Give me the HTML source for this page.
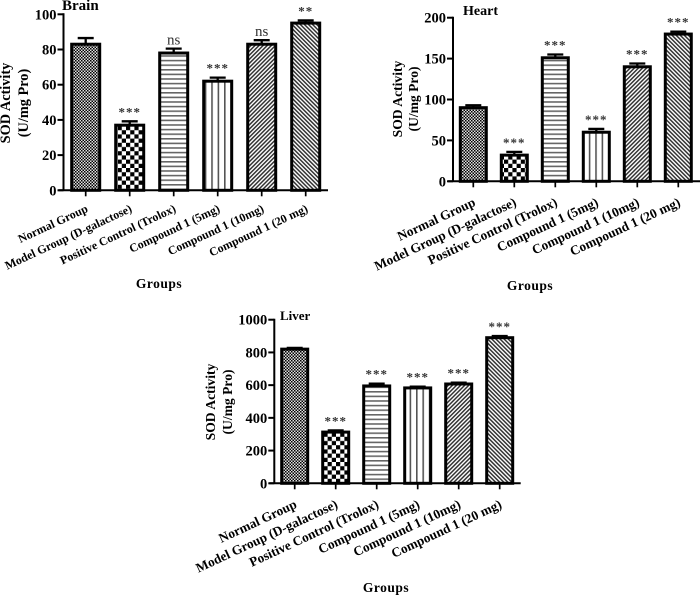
<!DOCTYPE html>
<html><head><meta charset="utf-8"><title>SOD Activity</title>
<style>
html,body{margin:0;padding:0;background:#fff;}
svg{display:block;font-family:"Liberation Serif",serif;}
text{fill:#000;}
</style></head>
<body>
<svg id="chart" width="700" height="595" viewBox="0 0 700 595" xmlns="http://www.w3.org/2000/svg">
<defs>
<filter id="soft" x="-2%" y="-2%" width="104%" height="104%"><feGaussianBlur stdDeviation="0.3"/></filter>
<pattern id="p0" width="3" height="3" patternUnits="userSpaceOnUse"><rect width="3" height="3" fill="#e0e0e0"/><rect width="1.5" height="1.5" fill="#000"/><rect x="1.5" y="1.5" width="1.5" height="1.5" fill="#000"/></pattern>
<pattern id="p1" width="8.4" height="8.4" patternUnits="userSpaceOnUse"><rect width="8.4" height="8.4" fill="#fff"/><rect width="4.2" height="4.2" fill="#000"/><rect x="4.2" y="4.2" width="4.2" height="4.2" fill="#000"/></pattern>
<pattern id="p2" width="4" height="4.6" patternUnits="userSpaceOnUse"><rect width="4" height="4.6" fill="#fff"/><rect y="0" width="4" height="1.6" fill="#666"/></pattern>
<pattern id="p3" width="6.4" height="4" patternUnits="userSpaceOnUse"><rect width="6.4" height="4" fill="#fff"/><rect x="0" width="1.6" height="4" fill="#555"/></pattern>
<pattern id="p4" width="2.9" height="2.9" patternUnits="userSpaceOnUse" patternTransform="rotate(45)"><rect width="2.9" height="2.9" fill="#fff"/><rect width="1.5" height="2.9" fill="#333"/></pattern>
<pattern id="p5" width="2.9" height="2.9" patternUnits="userSpaceOnUse" patternTransform="rotate(-45)"><rect width="2.9" height="2.9" fill="#fff"/><rect width="1.5" height="2.9" fill="#333"/></pattern>
</defs>
<g id="root" filter="url(#soft)"></g>
</svg>
<script>
const categories = ["Normal Group","Model Group (D-galactose)","Positive Control (Trolox)","Compound 1 (5mg)","Compound 1 (10mg)","Compound 1 (20 mg)"];
const brainValues = [83,37,78,62,83,95];
const brainErrors = [3.5,2.2,2.5,2,2.3,1.5];
const brainMarks = ["","***","ns","***","ns","**"];
const brainTicks = [0,20,40,60,80,100];
const heartValues = [90,32,151,60,140,180];
const heartErrors = [3,4,4,4,4,3];
const heartMarks = ["","***","***","***","***","***"];
const heartTicks = [0,50,100,150,200];
const liverValues = [820,313,595,583,607,890];
const liverErrors = [8,10,14,8,8,10];
const liverMarks = ["","***","***","***","***","***"];
const liverTicks = [0,200,400,600,800,1000];

const NS = "http://www.w3.org/2000/svg";
const root = document.getElementById("root");
function mk(tag, attrs, parent, txt){
  const e = document.createElementNS(NS, tag);
  for (const k in attrs) e.setAttribute(k, attrs[k]);
  if (txt !== undefined) e.textContent = txt;
  parent.appendChild(e);
  return e;
}
function drawPanel(cfg){
  const g = mk("g", {}, root);
  
  
  const y = v => cfg.y0 - (v / cfg.max) * (cfg.y0 - cfg.yTop);
  const x = i => cfg.c0 + i * cfg.step;
  const bw = cfg.bw;

  cfg.values.forEach((v, i) => {
    const cx = x(i), top = y(v), et = y(v + cfg.errors[i]);
    const eb = mk("path", {d:`M${cx} ${top}V${et}M${cx-8} ${et}H${cx+8}`, stroke:"#000","stroke-width":2.3,fill:"none"}, g);
    
    
    const r = mk("rect", {x:cx-bw/2+1.5, y:top, width:bw-3, height:cfg.y0-top, fill:`url(#p${i})`, stroke:"#000","stroke-width":3}, g);
    
    
    if (cfg.marks[i]) {
      const isNs = cfg.marks[i] === "ns";
      const t = mk("text", {x:cx, y:isNs?et-4:et-5, "text-anchor":"middle","font-size":isNs?15:13,"letter-spacing":isNs?0:1,"style":"fill:#333","font-weight":isNs?"normal":"bold"}, g, cfg.marks[i]);
      
      
    }
    const tk = mk("line", {x1:cx,x2:cx,y1:cfg.y0,y2:cfg.y0+6,stroke:"#000","stroke-width":1.7}, g);
    
    
    const lx = cx + cfg.lx, ly = cfg.y0 + cfg.ly;
    const lb = mk("text", {x:lx, y:ly, "text-anchor":"end","font-size":cfg.lf,"font-weight":"bold",transform:`rotate(${cfg.rot} ${lx} ${ly})`}, g, categories[i]);
    
    
  });

  const ax = mk("path", {d:`M${cfg.ax} ${cfg.yTop-1}V${cfg.y0}M${cfg.ax-5} ${cfg.y0}H${cfg.xEnd}`, stroke:"#000","stroke-width":2,fill:"none"}, g);
  
  

  cfg.ticks.forEach(tv => {
    const ty = y(tv);
    const tl = mk("line", {x1:cfg.ax-6,x2:cfg.ax,y1:ty,y2:ty,stroke:"#000","stroke-width":2}, g);
    
    
    const tt = mk("text", {x:cfg.ax-7,y:ty+5,"text-anchor":"end","font-size":14.5,"font-weight":"bold"}, g, String(tv));
    
    
  });

  const t1 = mk("text", {x:cfg.ty1, y:cfg.tyc, "text-anchor":"middle","font-size":cfg.yf,"font-weight":"bold",transform:`rotate(-90 ${cfg.ty1} ${cfg.tyc})`}, g, "SOD Activity");
  
  
  const t2 = mk("text", {x:cfg.ty2, y:cfg.tyc, "text-anchor":"middle","font-size":cfg.yf,"font-weight":"bold",transform:`rotate(-90 ${cfg.ty2} ${cfg.tyc})`}, g, "(U/mg Pro)");
  
  

  const ti = mk("text", {x:cfg.tx, y:cfg.tity, "font-size":cfg.tf,"font-weight":"bold"}, g, cfg.title);
  
  
  const gr = mk("text", {x:cfg.gx, y:cfg.gy, "text-anchor":"middle","font-size":13.5,"font-weight":"bold","letter-spacing":0.5}, g, "Groups");
  
  
}
drawPanel({name:"brain",title:"Brain",values:brainValues,errors:brainErrors,marks:brainMarks,ticks:brainTicks,max:100,
  y0:190.3,yTop:14.3,ax:63.5,xEnd:328,c0:85.7,step:44,bw:31,lx:3,ly:21,lf:11.9,rot:-25,
  ty1:10,ty2:28,tyc:103,yf:14.3,tx:62,tity:10,tf:15,gx:159,gy:288});
drawPanel({name:"heart",title:"Heart",values:heartValues,errors:heartErrors,marks:heartMarks,ticks:heartTicks,max:200,
  y0:181.3,yTop:17.7,ax:453,xEnd:700,c0:473.3,step:41,bw:29,lx:3,ly:24,lf:13.3,rot:-25,
  ty1:402,ty2:418,tyc:99,yf:13.6,tx:463,tity:15,tf:14,gx:530,gy:290});
drawPanel({name:"liver",title:"Liver",values:liverValues,errors:liverErrors,marks:liverMarks,ticks:liverTicks,max:1000,
  y0:483.3,yTop:319.7,ax:274.3,xEnd:520.7,c0:294.7,step:41,bw:29,lx:3,ly:24,lf:13.3,rot:-25,
  ty1:215,ty2:232,tyc:402,yf:13.6,tx:280,tity:320,tf:13,gx:386,gy:592});
</script>
</body></html>
